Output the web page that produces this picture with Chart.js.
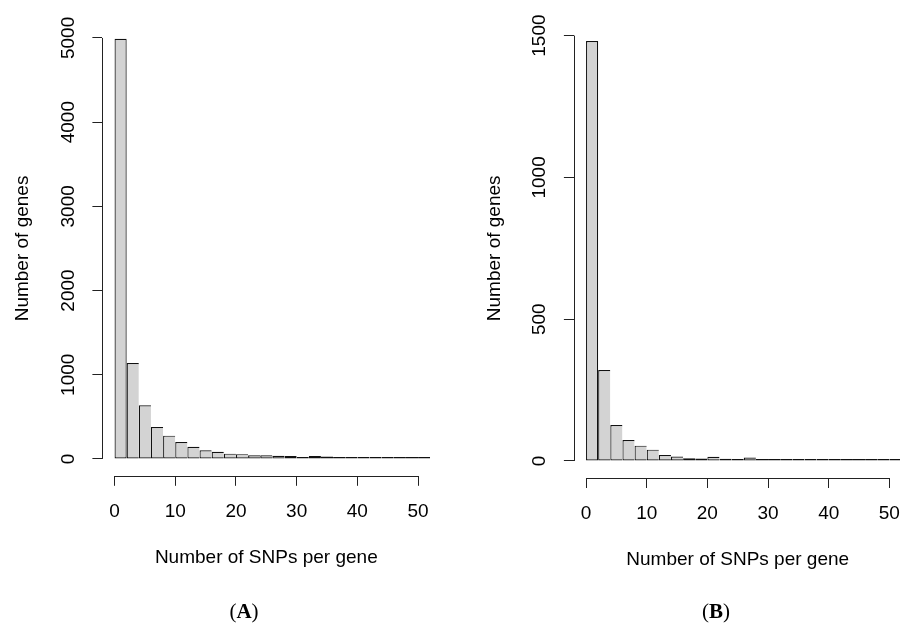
<!DOCTYPE html>
<html>
<head>
<meta charset="utf-8">
<script src="https://cdn.jsdelivr.net/npm/chart.js@4.4.1/dist/chart.umd.min.js"></script>
<style>
  body { margin: 0; width: 900px; height: 624px; overflow: hidden; background: #fff; position: relative; }
  canvas { position: absolute; top: 0; }
  #chartA { left: 0; }
  #chartB { left: 450px; }
  .panel {
    position: absolute; top: 599px; line-height: 24px;
    font-family: "Liberation Serif", "Times New Roman", serif; font-size: 21px;
    color: #000; transform: translateX(-50%); white-space: nowrap;
  }
</style>
</head>
<body>
<canvas id="chartA" width="450" height="624"></canvas>
<canvas id="chartB" width="470" height="624"></canvas>
<div class="panel" style="left:244px">(<b>A</b>)</div>
<div class="panel" style="left:716px">(<b>B</b>)</div>

<script>
// bins are 2 SNPs wide, centres given here
const binCenters = [1, 3, 5, 7, 9, 11, 13, 15, 17, 19, 21, 23, 25, 27, 29, 31, 33, 35, 37, 39, 41, 43, 45, 47, 49, 51];
const genesA = [4990, 1140, 638, 380, 277, 202, 145, 102, 86, 63, 57, 43, 43, 39, 35, 24, 35, 28, 16, 12, 16, 12, 12, 12, 8, 10];
const genesB = [1481, 321, 127, 74, 54, 40, 21, 16, 10, 9, 15, 8, 7, 12, 2, 6, 2, 4, 1, 4, 4, 2, 1, 4, 1, 1];
const xTicks = [0, 10, 20, 30, 40, 50];
const yTicksA = [0, 1000, 2000, 3000, 4000, 5000];
const yTicksB = [0, 500, 1000, 1500];

Chart.defaults.font.family = "'Liberation Sans', Arial, sans-serif";
Chart.defaults.font.size = 19;
Chart.defaults.color = '#000';

const axisColor = '#222';

// R style: axis line runs only from first to last tick
const rAxisLines = {
  id: 'rAxisLines',
  afterDraw(chart) {
    const { ctx, chartArea, scales: { x, y } } = chart;
    const xt = x.ticks, yt = y.ticks;
    const left = Math.round(chartArea.left) + 0.5;
    const bottom = Math.round(chartArea.bottom) + 0.5;
    ctx.save();
    ctx.strokeStyle = axisColor;
    ctx.lineWidth = 1;
    ctx.beginPath();
    ctx.moveTo(left, y.getPixelForValue(yt[0].value));
    ctx.lineTo(left, y.getPixelForValue(yt[yt.length - 1].value));
    ctx.moveTo(x.getPixelForValue(xt[0].value), bottom);
    ctx.lineTo(x.getPixelForValue(xt[xt.length - 1].value), bottom);
    ctx.stroke();
    ctx.restore();
  }
};

function makeHist(id, counts, yTicks, yMin, yMax, box) {
  return new Chart(document.getElementById(id), {
    type: 'bar',
    data: {
      datasets: [{
        data: binCenters.map((c, i) => ({ x: c, y: counts[i] })),
        backgroundColor: '#d3d3d3',
        borderColor: '#111',
        // neighbouring bars share one edge, as in R's hist(); first bar gets both sides
        borderWidth: ctx => ({ top: 1.2, left: 1.2, bottom: 1.2, right: ctx.dataIndex === 0 ? 1.2 : 0 }),
        borderSkipped: false,
        inflateAmount: 0,
        minBarLength: 2,
        barPercentage: 1,
        categoryPercentage: 1
      }]
    },
    options: {
      responsive: false,
      animation: false,
      layout: { padding: box.padding },
      plugins: { legend: { display: false }, tooltip: { enabled: false } },
      scales: {
        x: {
          type: 'linear', min: -2, max: 52, offset: false,
          afterBuildTicks: s => { s.ticks = xTicks.map(v => ({ value: v })); },
          afterFit: s => { s.height = box.xHeight; },
          grid: { offset: false, drawOnChartArea: false, tickLength: 10, color: axisColor },
          border: { display: false },
          ticks: { padding: 14.5, maxRotation: 0, autoSkip: false, callback: v => String(v) },
          title: { display: true, text: 'Number of SNPs per gene', padding: { top: 0, bottom: box.xTitlePad } }
        },
        y: {
          min: yMin, max: yMax,
          afterBuildTicks: s => { s.ticks = yTicks.map(v => ({ value: v })); },
          afterFit: s => { s.width = box.yWidth; },
          grid: { drawOnChartArea: false, tickLength: 10, color: axisColor },
          border: { display: false },
          ticks: { minRotation: 90, maxRotation: 90, crossAlign: 'center', padding: 3, autoSkip: false, callback: v => String(v) },
          title: { display: true, text: 'Number of genes', padding: { top: box.yTitlePad, bottom: 0 } }
        }
      }
    },
    plugins: [rAxisLines]
  });
}

makeHist('chartA', genesA, yTicksA, -200, 5200, {
  padding: { left: 0, top: 21.1, right: 19.8, bottom: 0 },
  yWidth: 102.4, xHeight: 148.2, xTitlePad: 54.6, yTitlePad: 11.6
});

makeHist('chartB', genesB, yTicksB, -60, 1560, {
  padding: { left: 0, top: 18.6, right: 18.5, bottom: 0 },
  yWidth: 123.9, xHeight: 146, xTitlePad: 52.6, yTitlePad: 33.6
});
</script>
</body>
</html>
